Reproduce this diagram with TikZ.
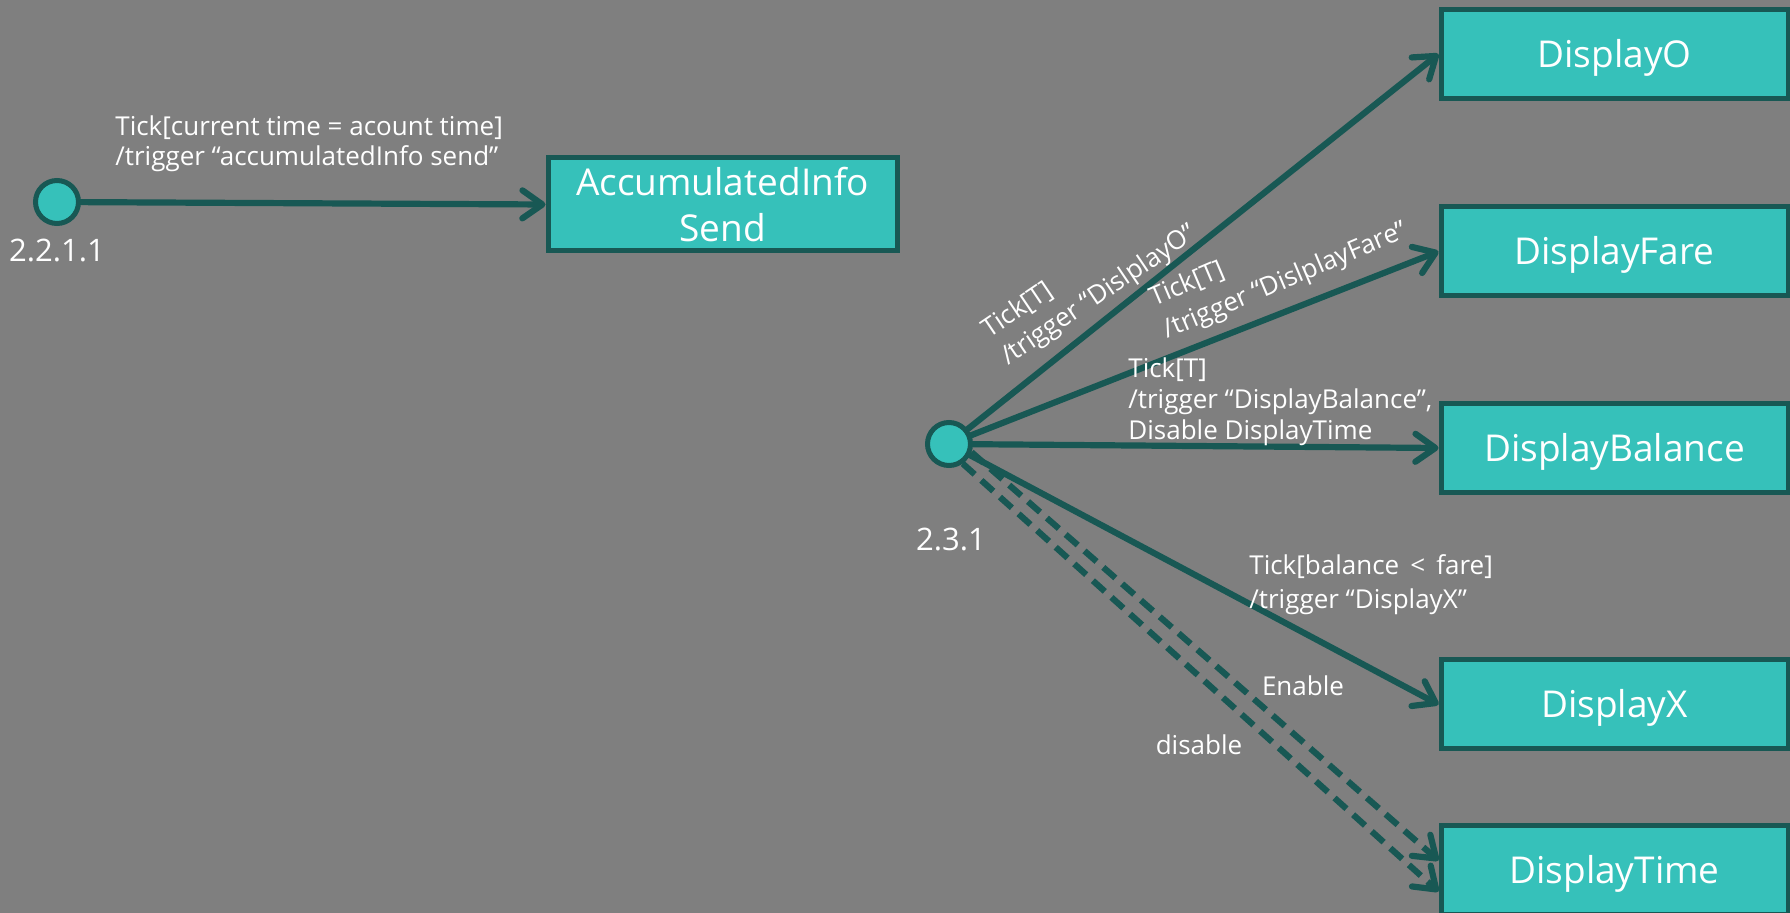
\documentclass[tikz,border=0pt]{standalone}
\usepackage{fontspec}
\setmainfont{Open Sans}
\usetikzlibrary{arrows.meta,calc}
\definecolor{canvasgray}{RGB}{127,127,127}
\definecolor{statefill}{RGB}{54,193,186}
\definecolor{statedge}{RGB}{24,88,84}
\begin{document}
\begin{tikzpicture}[x=0.5pt,y=-0.5pt,
  statebox/.style={rectangle, draw=statedge, fill=statefill, line width=2.5pt,
    text=white, inner sep=0pt, align=center, minimum width=173.5pt, minimum height=44.5pt,
    font=\fontsize{18.5}{23}\selectfont},
  oneline/.style={text height=13.3pt, text depth=0pt},
  pseudo/.style={circle, draw=statedge, fill=statefill, line width=2.5pt,
    minimum size=21.5pt, inner sep=0pt},
  trans/.style={draw=statedge, line width=3.1pt, line cap=round,
    -{Straight Barb[length=10pt,width=14pt,round]}},
  toggle/.style={trans, line cap=butt, dash pattern=on 8pt off 4.5pt},
  guard/.style={text=white, inner sep=0pt, align=left},
  ident/.style={text=white, inner sep=0pt, font=\fontsize{15.5}{18}\selectfont}
]
\clip (0,0) rectangle (1790,913);
\fill[canvasgray] (0,0) rectangle (1790,913);

% accumulated info branch
\node[pseudo] (c1) at (57,202) {};
\node[ident] (n1) at (57,251) {2.2.1.1};
\node[statebox, minimum width=174.5pt, minimum height=46.5pt] (acc) at (722.5,204.5)
  {AccumulatedInfo\\Send};
\draw[trans] (c1) -- (acc.west);
\node[guard, anchor=north west, font=\fontsize{13}{15}\selectfont] (g1) at (115,115)
  {Tick[current time = acount time]\\/trigger “accumulatedInfo send”};

% display branch
\node[pseudo] (c2) at (949,444) {};
\node[ident] (n2) at (951,540) {2.3.1};

\node[statebox, oneline] (dO) at (1614.5,54) {DisplayO};
\node[statebox, oneline] (dF) at (1614.5,251.5) {DisplayFare};
\node[statebox, oneline] (dB) at (1614.5,448) {DisplayBalance};
\node[statebox, oneline] (dX) at (1614.5,704.5) {DisplayX};
\node[statebox, oneline] (dT) at (1614.5,870.5) {DisplayTime};

\draw[trans] (c2) -- (dO.west);
\draw[trans] (c2) -- (dF.west);
\draw[trans] (c2) -- (dB.west);
\draw[trans] (c2) -- (dX.west);

\coordinate (tEn) at ($(dT.north west)+(0,37)$);
\coordinate (tDis) at ($(dT.north west)+(0,68)$);
\draw[toggle] (c2.-20) -- (tEn);
\draw[toggle] (c2.-55) -- (tDis);

\node[guard, rotate=34, anchor=north west, font=\fontsize{13}{16.5}\selectfont] (gO) at (978,322)
  {Tick[T]\\/trigger “DislplayO”};
\node[guard, rotate=23, anchor=north west, font=\fontsize{13}{17.5}\selectfont] (gF) at (1146,288)
  {Tick[T]\\/trigger “DislplayFare”};
\node[guard, anchor=north west, font=\fontsize{13}{15.5}\selectfont] (gB) at (1128,357)
  {Tick[T]\\/trigger “DisplayBalance”,\\Disable DisplayTime};
\node[guard, anchor=north west, font=\fontsize{13}{17}\selectfont] (gX) at (1249,554)
  {Tick[balance \,<\, fare]\\/trigger “DisplayX”};
\node[guard, font=\fontsize{13}{15}\selectfont] (gEn) at (1303,686) {Enable};
\node[guard, font=\fontsize{13}{15}\selectfont] (gDis) at (1199,745) {disable};
\end{tikzpicture}
\end{document}
